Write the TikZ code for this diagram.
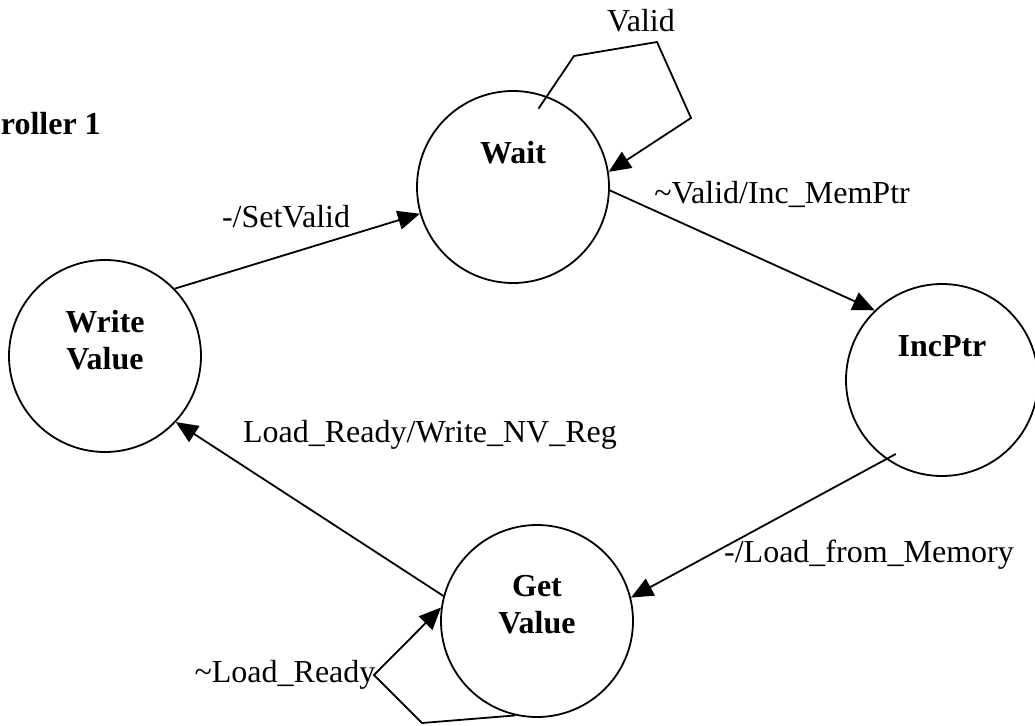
\documentclass[tikz,border=0pt]{standalone}
\usepackage{fontspec}
\setmainfont{Liberation Serif}
\usetikzlibrary{arrows.meta, calc}

\begin{document}
\begin{tikzpicture}[> = {Triangle[length = 22pt, width = 19pt]}, x = 1pt, y = -1pt, line width = 1.8pt,
    font = \fontsize{32}{37}\selectfont,
    state/.style = {circle, draw, minimum size = 192pt, inner sep = 0pt},
    stname/.style = {align = center, inner sep = 0pt, font = \fontsize{32}{37}\selectfont\bfseries},
    every node/.append style = {inner sep = 0pt}]
    \useasboundingbox (0, 0) rectangle (1035, 725);

    % states
    \node[state, label = {[stname, yshift = 16pt]center:Write\\Value}] (wv) at (105, 356) {};
    \node[state, label = {[stname, yshift = 34pt]center:Wait}] (wait) at (513, 187) {};
    \node[state, label = {[stname, yshift = 34pt]center:IncPtr}] (inc) at (942, 380) {};
    \node[state, label = {[stname, yshift = 16pt]center:Get\\Value}] (gv) at (537, 621) {};

    % corners of the self loops
    \coordinate (wl1) at (574, 56);
    \coordinate (wl2) at (657, 42);
    \coordinate (wl3) at (691, 118);
    \coordinate (gl1) at (422, 723);
    \coordinate (gl2) at (374, 675);
    \coordinate (waitin) at ($(wait)!0.85!(wait.72)$);
    \coordinate (incin) at ($(inc)!0.9!(inc.238)$);

    % transitions
    \draw[->] (wv.44) -- (wait.196);
    \draw[->] (wait.358) -- (inc.134);
    \draw[->] (incin) -- (gv.14);
    \draw[->] (gv.165) -- (wv.317);
    \draw[->] (waitin) -- (wl1) -- (wl2) -- (wl3) -- (wait.9);
    \draw[->] (gv.257) -- (gl1) -- (gl2) -- (gv.172);

    % transition labels
    \node (setvalid) at (286, 217) {-/SetValid};
    \node (incmem) at (782, 194) {\textasciitilde Valid/Inc\_MemPtr};
    \node (loadmem) at (869, 555) {-/Load\_from\_Memory};
    \node (writereg) at (430, 435) {Load\_Ready/Write\_NV\_Reg};
    \node (valid) at (641, 21) {Valid};
    \node (notready) at (285, 675) {\textasciitilde Load\_Ready};
    \node[anchor = west, font = \fontsize{32}{37}\selectfont\bfseries] (ctrl) at (0, 124) {roller 1};
\end{tikzpicture}
\end{document}
